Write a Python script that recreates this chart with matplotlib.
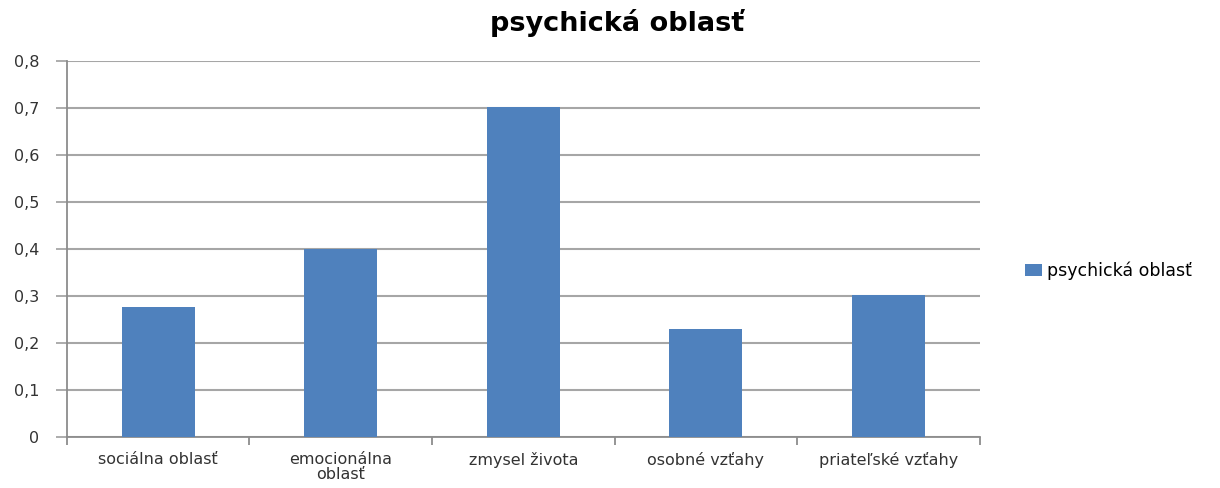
import matplotlib.pyplot as plt
import numpy as np

plt.rcParams['font.family'] = ['DejaVu Sans']

categories = ['sociálna oblasť', 'emocionálna\noblasť', 'zmysel života',
              'osobné vzťahy', 'priateľské vzťahy']
values = [0.277, 0.4, 0.703, 0.229, 0.302]
series_name = 'psychická oblasť'
yticks = [0, 0.1, 0.2, 0.3, 0.4, 0.5, 0.6, 0.7, 0.8]
ytick_labels = ['0', '0,1', '0,2', '0,3', '0,4', '0,5', '0,6', '0,7', '0,8']

fig = plt.figure(figsize=(12.2, 4.88), dpi=100)
ax = fig.add_axes([0.0549, 0.1045, 0.748, 0.7705])

x = np.arange(len(categories))
bars = ax.bar(x, values, width=0.4, color='#4f81bd', label=series_name, zorder=3)

ax.set_xlim(-0.5, len(categories) - 0.5)
ax.set_ylim(0, 0.8)
ax.set_yticks(yticks)
ax.set_yticklabels(ytick_labels, fontsize=11.5, color='#333333')
ax.yaxis.grid(True, color='#a6a6a6', linewidth=1.5, zorder=0)

# category labels centered, tick marks at boundaries
ax.set_xticks(x)
ax.set_xticklabels(categories, fontsize=11.5, color='#333333', linespacing=0.95)
ax.tick_params(axis='x', which='major', length=0, pad=11)
ax.set_xticks(np.arange(-0.5, len(categories)), minor=True)
ax.tick_params(axis='x', which='minor', length=6, color='#8c8c8c', width=1.3)
ax.tick_params(axis='y', length=8, color='#a6a6a6', width=1.3, pad=12)

for s in ['top', 'right']:
    ax.spines[s].set_visible(False)
for s in ['left', 'bottom']:
    ax.spines[s].set_color('#8c8c8c')
    ax.spines[s].set_linewidth(1.3)

fig.text(0.506, 0.952, 'psychická oblasť', ha='center', va='center',
         fontsize=19.5, fontweight='bold')

fig.legend(loc='center left', bbox_to_anchor=(0.827, 0.445), frameon=False,
           fontsize=12.5, handlelength=1.0, handleheight=0.7, handletextpad=0.3)

fig.savefig('out.png', dpi=100)
